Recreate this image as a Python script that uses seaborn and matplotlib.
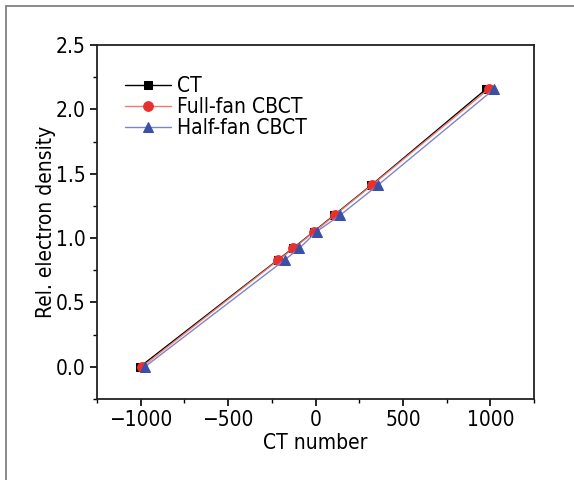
import matplotlib
matplotlib.use("Agg")
import matplotlib.pyplot as plt
import seaborn as sns
import pandas as pd
from matplotlib.patches import Rectangle
from matplotlib.ticker import MultipleLocator, FormatStrFormatter

# data
rel_density = [0.0, 0.83, 0.92, 1.05, 1.18, 1.41, 2.16]
ct_hu = [-1004, -216, -130, -10, 108, 318, 978]
full_fan_hu = [-992, -212, -126, -7, 112, 322, 992]
half_fan_hu = [-976, -177, -93, 6, 143, 356, 1024]

series_names = ["CT", "Full-fan CBCT", "Half-fan CBCT"]
series_x = [ct_hu, full_fan_hu, half_fan_hu]

rows = []
for name, xs in zip(series_names, series_x):
    for x, y in zip(xs, rel_density):
        rows.append({"series": name, "ct_number": x, "density": y})
df = pd.DataFrame(rows)

sns.set_style("ticks")
plt.rcParams["font.family"] = ["DejaVu Sans"]
plt.rcParams["font.stretch"] = "condensed"
plt.rcParams["text.color"] = "black"
plt.rcParams["axes.labelcolor"] = "black"
plt.rcParams["xtick.color"] = "black"
plt.rcParams["ytick.color"] = "black"

colors = {"CT": "#000000", "Full-fan CBCT": "#e8312f", "Half-fan CBCT": "#3a4fa8"}
line_colors = {"CT": "#000000", "Full-fan CBCT": "#f07a6e", "Half-fan CBCT": "#7d86c6"}
markers = {"CT": "s", "Full-fan CBCT": "o", "Half-fan CBCT": "^"}
msize = {"CT": 6, "Full-fan CBCT": 7, "Half-fan CBCT": 7}

fig = plt.figure(figsize=(5.74, 4.8), dpi=100)
ax = fig.add_axes([97 / 574, 1 - 399 / 480, (534 - 97) / 574, (399 - 45) / 480])

for name in series_names:
    sub = df[df["series"] == name]
    sns.lineplot(data=sub, x="ct_number", y="density", ax=ax, color=line_colors[name],
                 linewidth=1.0, marker=markers[name], markersize=msize[name],
                 markerfacecolor=colors[name], markeredgecolor=colors[name],
                 label=name, sort=False, estimator=None)

ax.set_xlim(-1250, 1250)
ax.set_ylim(-0.25, 2.5)
ax.xaxis.set_major_locator(MultipleLocator(500))
ax.xaxis.set_minor_locator(MultipleLocator(250))
ax.yaxis.set_major_locator(MultipleLocator(0.5))
ax.yaxis.set_minor_locator(MultipleLocator(0.25))
ax.yaxis.set_major_formatter(FormatStrFormatter("%.1f"))

for sp in ax.spines.values():
    sp.set_visible(True)
    sp.set_linewidth(1.3)
    sp.set_color("#222222")
ax.tick_params(which="major", direction="out", length=5, width=1.2, labelsize=15, pad=3)
ax.tick_params(which="minor", direction="out", length=3, width=1.0)

ax.set_xlabel("CT number", fontsize=15, labelpad=2)
ax.set_ylabel("Rel. electron density", fontsize=15, labelpad=0)

leg = ax.legend(loc="upper left", bbox_to_anchor=(0.045, 0.935), frameon=False, fontsize=15,
                handlelength=2.2, handletextpad=0.3, labelspacing=0.05, borderaxespad=0)

# grey outer frame of the original figure
fig.patches.append(Rectangle((6 / 574, -0.1), 1.2, 1.1 - 6 / 480, transform=fig.transFigure,
                             fill=False, edgecolor="#808080", linewidth=1.3))

fig.savefig("out.png", dpi=100)
